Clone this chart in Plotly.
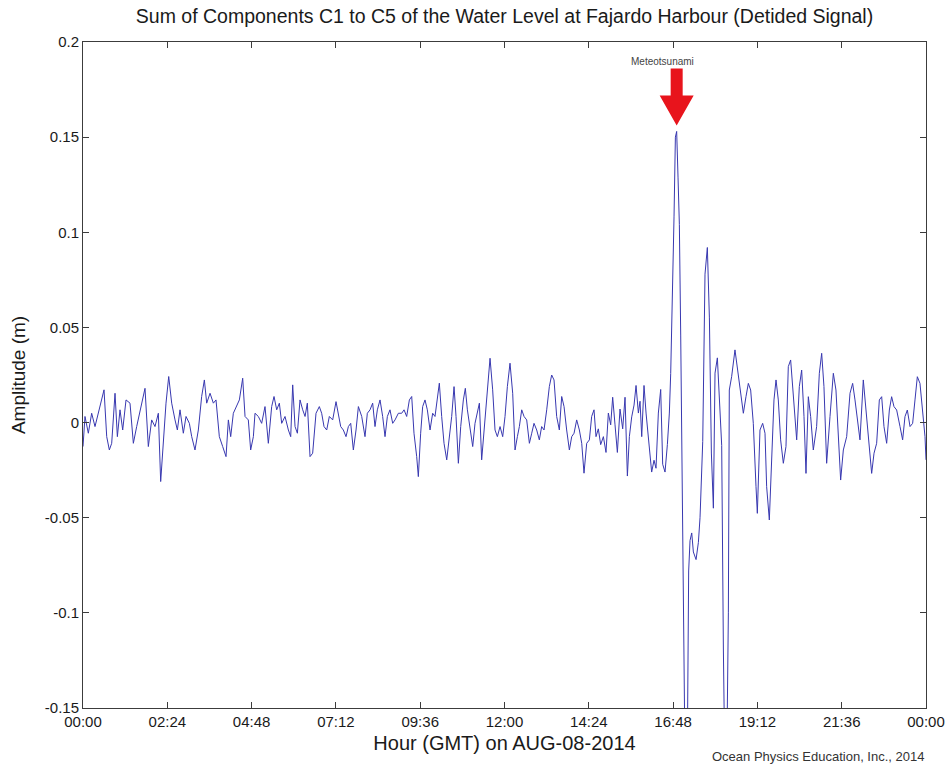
import plotly.graph_objects as go

# Detided water level (sum of components C1..C5), Fajardo Harbour, 2014-08-08
# time in minutes after 00:00 GMT, level in metres
time_min = [
    0.0, 3.4, 9.1, 14.8, 20.5, 29.1, 35.9, 40.5, 45.0, 49.0, 54.7, 58.7, 63.2, 67.8,
    73.5, 80.3, 86.0, 91.7, 98.5, 105.9, 111.6, 117.3, 123.0, 128.7, 132.7, 137.3,
    141.8, 146.4, 151.5, 157.2, 161.2, 165.7, 171.4, 176.0, 181.7, 185.7, 191.3,
    197.0, 202.7, 207.3, 211.3, 217.0, 222.7, 227.2, 232.9, 238.6, 244.3, 248.3,
    252.3, 256.8, 262.5, 267.1, 272.8, 276.8, 282.4, 286.4, 291.0,
    293.8, 299.5, 305.2, 310.9, 316.6, 322.3, 326.3, 330.9, 335.4, 339.4, 345.1,
    350.8, 354.8, 358.2, 362.2, 366.2, 370.7, 375.3, 379.3, 383.2, 387.8, 392.3,
    398.0, 403.7, 407.7, 411.7, 416.3, 420.8, 426.5, 432.2, 436.2, 440.2, 444.7,
    449.3, 453.3, 457.3, 461.8, 466.4, 470.4, 476.1, 481.7, 485.7, 490.3, 494.8,
    498.8, 502.8, 507.4, 511.9, 515.9, 519.9, 524.4, 529.0, 533.0, 538.7, 544.4,
    548.4, 552.9, 557.5, 561.5, 565.4, 570.0, 572.8, 576.8, 580.2,
    584.2, 588.2, 592.8, 597.3, 601.3, 605.3, 608.7, 612.7, 616.7, 621.3, 625.8,
    629.8, 633.8, 637.2, 641.2, 645.2, 649.7, 653.1, 656.6, 661.1, 665.7, 669.6,
    673.6, 677.1, 681.0, 685.0, 688.4, 692.4, 695.3, 699.8, 703.8, 707.8, 712.4,
    716.9, 720.9, 724.9, 729.4, 734.0, 738.0, 742.0, 745.4, 749.4, 753.4, 757.9,
    762.5, 766.5, 770.4, 775.0, 779.5, 783.5, 787.5, 792.1, 796.6, 800.6, 804.6,
    809.1, 813.7, 817.7, 821.7, 826.2, 830.8, 834.8, 838.8, 843.3, 847.9, 851.9,
    855.8, 860.4, 865.0, 868.9, 872.9,
    876.3, 880.3, 884.3, 888.9, 893.4, 897.4, 901.4, 904.8, 908.8, 912.8, 917.3,
    921.9, 925.9, 929.9, 933.3, 937.3, 941.3, 944.7, 948.7, 951.5, 954.4, 958.3,
    961.8, 967.5, 971.4, 975.4, 978.8, 982.8, 986.8, 990.2, 994.2, 998.2, 1001.6,
    1003.9, 1007.3, 1009.6, 1011.9, 1014.1, 1016.4, 1018.7, 1021.0, 1023.3,
    1025.5, 1027.8, 1030.1, 1032.4, 1034.6, 1036.9, 1039.8, 1042.6, 1047.2,
    1051.2, 1054.0, 1058.6, 1062.5, 1066.5, 1070.0, 1073.4, 1076.8, 1079.6,
    1083.6, 1088.2, 1091.0, 1093.9, 1096.7, 1099.6, 1102.4,
    1104.0, 1108.0, 1113.7, 1119.4, 1123.4, 1128.0, 1132.5, 1136.5, 1140.5,
    1145.0, 1149.6, 1151.9, 1156.4, 1161.0, 1165.0, 1167.8, 1172.4, 1176.4,
    1180.3, 1183.8, 1187.7, 1191.7, 1196.3, 1200.8, 1204.8, 1208.8, 1213.4,
    1219.1, 1223.6, 1227.6, 1231.6, 1235.0, 1239.0, 1243.0, 1247.5, 1253.2,
    1257.8, 1261.8, 1265.7, 1270.3, 1276.0, 1281.7, 1286.2, 1290.2, 1294.2,
    1298.8, 1304.5, 1310.2, 1314.7, 1318.7, 1322.7, 1327.2, 1332.9, 1337.5,
    1343.2, 1347.2, 1351.2, 1355.7, 1360.3, 1364.3, 1368.2, 1372.8, 1377.4,
    1381.3, 1385.3, 1389.9, 1395.6, 1400.1, 1404.1, 1408.1, 1412.7, 1417.2,
    1421.2, 1425.2, 1429.7, 1434.3, 1438.3, 1440.0,
]

level_m = [
    -0.0126, 0.0032, -0.0056, 0.0049, -0.0021, 0.0084, 0.0172, -0.0074, -0.0144,
    -0.0109, 0.0154, -0.0074, 0.0067, -0.0039, 0.0119, 0.0102, -0.0109, -0.0021,
    0.0084, 0.0180, -0.0126, 0.0014, -0.0021, 0.0049, -0.0310, -0.0074, 0.0102,
    0.0242, 0.0102, 0.0014, -0.0039, 0.0067, -0.0056, 0.0032, -0.0004, -0.0074,
    -0.0144, -0.0039, 0.0137, 0.0224, 0.0102, 0.0154, 0.0102, 0.0119, -0.0074,
    -0.0126, -0.0179, 0.0014, -0.0074, 0.0049, 0.0084, 0.0119, 0.0233, 0.0032,
    0.0014, -0.0144, -0.0074,
    0.0049, 0.0032, -0.0004, 0.0084, -0.0109, 0.0084, 0.0137, 0.0067, 0.0102,
    -0.0004, 0.0032, -0.0039, -0.0074, 0.0198, -0.0021, -0.0056, 0.0119, 0.0067,
    0.0032, 0.0102, -0.0179, -0.0161, 0.0049, 0.0084, 0.0049, -0.0021, -0.0039,
    0.0032, 0.0014, 0.0110, 0.0032, -0.0021, -0.0039, -0.0074, -0.0021, -0.0004,
    -0.0144, -0.0039, 0.0084, 0.0032, -0.0074, 0.0049, 0.0067, 0.0102, -0.0021,
    0.0067, 0.0119, 0.0032, -0.0074, 0.0032, 0.0067, -0.0004, 0.0014, 0.0049,
    0.0049, 0.0067, 0.0032, 0.0119, 0.0137, -0.0056, -0.0179, -0.0284, -0.0056,
    0.0084,
    0.0119, 0.0067, -0.0039, 0.0049, 0.0032, 0.0119, 0.0207, 0.0032, -0.0109,
    -0.0196, -0.0074, 0.0032, 0.0189, 0.0032, -0.0214, -0.0021, 0.0119, 0.0180,
    0.0067, -0.0039, -0.0126, -0.0004, 0.0049, 0.0102, -0.0196, -0.0056, 0.0102,
    0.0207, 0.0338, 0.0172, -0.0039, -0.0074, -0.0021, -0.0074, 0.0032, 0.0189,
    0.0312, 0.0154, -0.0144, -0.0074, -0.0021, 0.0067, 0.0032, 0.0014, -0.0109,
    -0.0056, -0.0004, -0.0039, -0.0091, -0.0021, -0.0039, 0.0067, 0.0189, 0.0250,
    0.0224, 0.0032, -0.0039, 0.0137, 0.0084, -0.0039, -0.0144, -0.0074, -0.0056,
    0.0014, -0.0039, -0.0109, -0.0266, -0.0109, -0.0091, 0.0032, 0.0067,
    -0.0074, -0.0033, -0.0116, -0.0074, -0.0157, 0.0050, -0.0012, 0.0133,
    -0.0012, -0.0157, 0.0071, -0.0033, 0.0133, -0.0281, -0.0074, 0.0030, 0.0092,
    0.0195, 0.0050, 0.0112, -0.0074, 0.0195, 0.0050, -0.0157, -0.0260, -0.0198,
    -0.0240, 0.0050, 0.0174, -0.0219, -0.0260, -0.0116, 0.0050, 0.0257, 0.0670,
    0.1085, 0.1500, 0.1530, 0.1290, 0.1040, 0.0460, -0.0360, -0.1150, -0.1600,
    -0.1900, -0.1700, -0.0780, -0.0620, -0.0580, -0.0680, -0.0720, -0.0630,
    -0.0500, -0.0100, 0.0780, 0.0920, 0.0550, -0.0160, -0.0450, 0.0260, 0.0340,
    0.0050, -0.0120, -0.1190, -0.1900, -0.1800, -0.1000,
    0.0171, 0.0241, 0.0382, 0.0241, 0.0136, 0.0049, 0.0136, 0.0206, 0.0171,
    -0.0004, -0.0337, -0.0477, -0.0039, -0.0004, -0.0056, -0.0337, -0.0512,
    -0.0214, 0.0119, 0.0224, 0.0119, -0.0091, -0.0214, -0.0126, 0.0294, 0.0329,
    0.0119, -0.0091, 0.0189, 0.0276, 0.0031, -0.0267, 0.0136, 0.0031, -0.0144,
    -0.0021, 0.0259, 0.0364, 0.0189, -0.0214, 0.0031, 0.0259, 0.0171, -0.0109,
    -0.0302, -0.0144, -0.0074, 0.0154, 0.0206, 0.0119, 0.0014, -0.0091, 0.0224,
    0.0066, -0.0109, -0.0267, -0.0161, -0.0109, 0.0119, 0.0136, -0.0021, -0.0109,
    0.0066, 0.0136, 0.0084, 0.0066, -0.0021, -0.0091, 0.0031, 0.0066, -0.0021,
    -0.0004, 0.0119, 0.0241, 0.0206, 0.0066, -0.0074, -0.0196,
]

x_tick_labels = ["00:00", "02:24", "04:48", "07:12", "09:36", "12:00",
                 "14:24", "16:48", "19:12", "21:36", "00:00"]
y_tick_values = [-0.15, -0.1, -0.05, 0, 0.05, 0.1, 0.15, 0.2]
y_tick_labels = ["-0.15", "-0.1", "-0.05", "0", "0.05", "0.1", "0.15", "0.2"]

title_text = "Sum of Components C1 to C5 of the Water Level at Fajardo Harbour (Detided Signal)"
x_title = "Hour (GMT) on AUG-08-2014"
y_title = "Amplitude (m)"
event_label = "Meteotsunami"
credit_text = "Ocean Physics Education, Inc., 2014"

FONT = "Liberation Sans, Arial, sans-serif"
AXIS_COLOR = "#3c3c3c"
TEXT_COLOR = "#1a1a1a"

x_tick_values = [i * 144 for i in range(len(x_tick_labels))]

# locate the main peak for the event marker
peak_idx = max(range(len(level_m)), key=lambda i: level_m[i])
peak_t, peak_v = time_min[peak_idx], level_m[peak_idx]

fig = go.Figure()
fig.add_trace(go.Scatter(
    x=time_min, y=level_m, mode="lines",
    line=dict(color="#3838b0", width=1),
    hoverinfo="skip", showlegend=False,
))

axis_common = dict(
    showline=True, linecolor=AXIS_COLOR, linewidth=1, mirror="ticks",
    ticks="inside", ticklen=6, tickcolor=AXIS_COLOR, showgrid=False,
    zeroline=False, automargin=False,
    tickfont=dict(family=FONT, size=15, color=TEXT_COLOR),
)

fig.update_xaxes(
    range=[0, 1440], tickmode="array", tickvals=x_tick_values,
    ticktext=x_tick_labels, **axis_common,
    title=dict(text=x_title, font=dict(family=FONT, size=20, color=TEXT_COLOR),
               standoff=6),
)
fig.update_yaxes(
    range=[-0.15, 0.2], tickmode="array", tickvals=y_tick_values,
    ticktext=y_tick_labels, **axis_common,
    title=dict(text=y_title, font=dict(family=FONT, size=19, color=TEXT_COLOR),
               standoff=14),
)

# red arrow pointing at the peak, drawn in pixel units around the peak
arrow_path = "M 0 6 L -17 36 L -6 36 L -6 63 L 6 63 L 6 36 L 17 36 Z"
fig.add_shape(
    type="path", xref="x", yref="y", xsizemode="pixel", ysizemode="pixel",
    xanchor=peak_t, yanchor=peak_v, path=arrow_path,
    fillcolor="#e8141c", line=dict(width=0), layer="above",
)
fig.add_annotation(
    x=peak_t, y=peak_v, xref="x", yref="y", text=event_label, showarrow=False,
    yshift=70, xshift=-14, font=dict(family=FONT, size=10, color="#444444"),
)
fig.add_annotation(
    x=1.0, y=-0.073, xref="paper", yref="paper", xanchor="right", yanchor="middle",
    text=credit_text, showarrow=False,
    font=dict(family=FONT, size=13, color="#333333"),
)

fig.update_layout(
    width=951, height=764,
    margin=dict(l=83, r=25, t=42, b=56),
    paper_bgcolor="white", plot_bgcolor="white",
    title=dict(text=title_text, x=0.5, xref="paper", xanchor="center",
               y=1 - 16 / 764, yanchor="middle",
               font=dict(family=FONT, size=19.5, color=TEXT_COLOR)),
)

fig.write_html("out.html")
